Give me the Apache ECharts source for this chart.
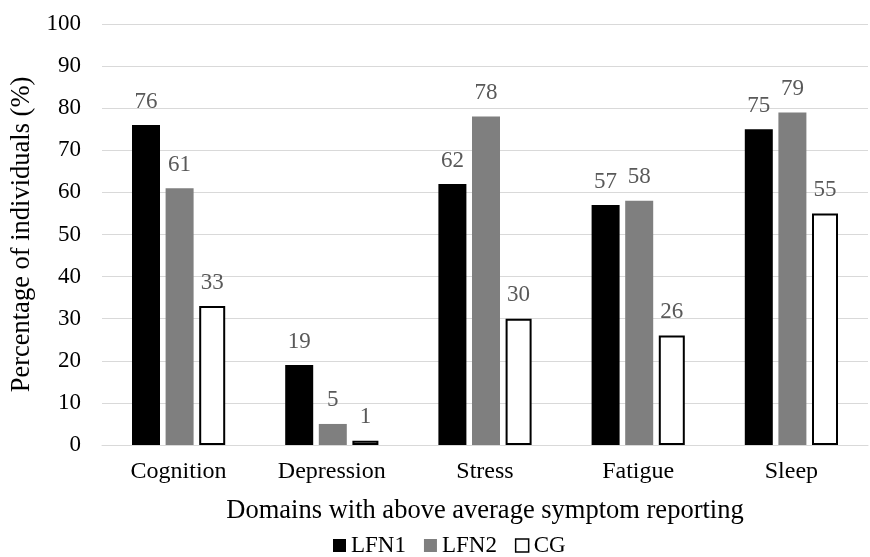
<!DOCTYPE html>
<html>
<head>
<meta charset="utf-8">
<script src="https://cdn.jsdelivr.net/npm/echarts@6/dist/echarts.min.js"></script>
<style>html,body{margin:0;padding:0;background:#fff}#c{width:870px;height:557px}</style>
</head>
<body>
<div id="c"></div>
<script>
const categories = ['Cognition', 'Depression', 'Stress', 'Fatigue', 'Sleep'];
const lfn1 = [76, 19, 62, 57, 75];
const lfn2 = [61, 5, 78, 58, 79];
const cg = [33, 1, 30, 26, 55];
const yTicks = { min: 0, max: 100, interval: 10 };

const FONT = "'Liberation Serif', 'Times New Roman', serif";
const FS = 23;
const FS_CAT = 24;
const FS_TITLE = 26.5;
const chart = echarts.init(document.getElementById('c'));
const label = { show: true, position: 'top', distance: 12, color: '#595959', fontFamily: FONT, fontSize: FS };
chart.setOption({
  animation: false,
  textStyle: { fontFamily: FONT },
  grid: { left: 102, right: 2, top: 24, bottom: 112, containLabel: false },
  legend: {
    bottom: 0, left: 333, padding: 0, itemWidth: 13, itemHeight: 13, itemGap: 18,
    textStyle: { fontFamily: FONT, fontSize: FS, color: '#000' },
    data: [
      { name: 'LFN1', icon: 'rect' },
      { name: 'LFN2', icon: 'rect' },
      { name: 'CG', icon: 'rect', itemStyle: { color: '#fff', borderColor: '#000', borderWidth: 1.5 } }
    ]
  },
  xAxis: {
    type: 'category', data: categories,
    axisLine: { lineStyle: { color: '#d9d9d9', width: 1 } },
    axisTick: { show: false },
    axisLabel: { color: '#000', fontFamily: FONT, fontSize: FS_CAT, margin: 15 },
    name: 'Domains with above average symptom reporting',
    nameLocation: 'middle', nameGap: 53,
    nameTextStyle: { color: '#000', fontFamily: FONT, fontSize: FS_TITLE }
  },
  yAxis: {
    type: 'value', min: yTicks.min, max: yTicks.max, interval: yTicks.interval,
    axisLine: { show: false }, axisTick: { show: false },
    splitLine: { lineStyle: { color: '#d9d9d9', width: 1 } },
    axisLabel: { color: '#000', fontFamily: FONT, fontSize: FS, margin: 21 },
    name: 'Percentage of individuals (%)',
    nameLocation: 'middle', nameGap: 62, nameRotate: 90,
    nameTextStyle: { color: '#000', fontFamily: FONT, fontSize: FS_TITLE }
  },
  series: [
    { name: 'LFN1', type: 'bar', data: lfn1, barWidth: 28, barGap: '20%', itemStyle: { color: '#000' }, label },
    { name: 'LFN2', type: 'bar', data: lfn2, barWidth: 28, barGap: '20%', itemStyle: { color: '#7f7f7f' }, label },
    { name: 'CG', type: 'bar', data: cg, barWidth: 26, barGap: '20%', itemStyle: { color: '#fff', borderColor: '#000', borderWidth: 2 }, label }
  ]
});
</script>
</body>
</html>
